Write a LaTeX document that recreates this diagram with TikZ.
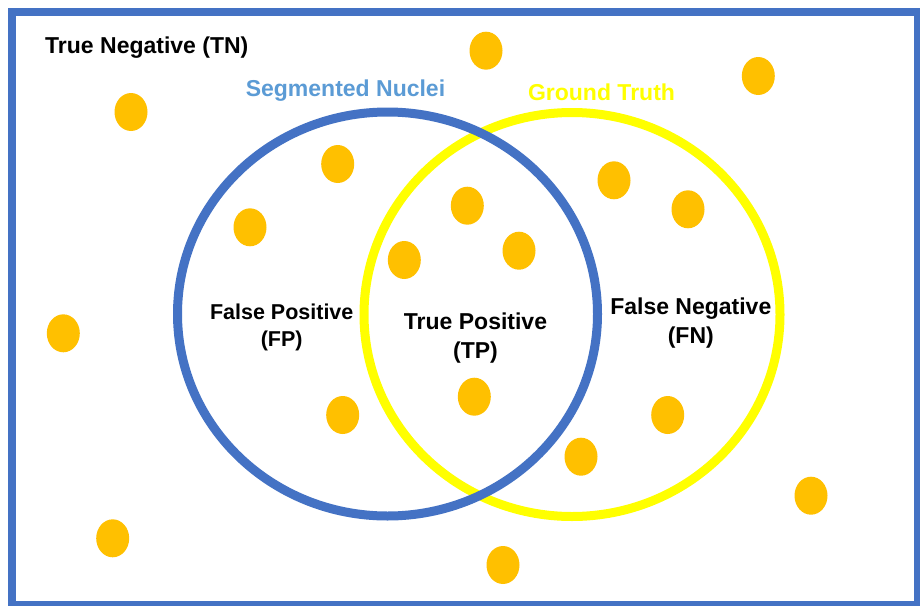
\documentclass[tikz,border=0pt]{standalone}
\usepackage{fontspec}
\setmainfont{Liberation Sans}
\usetikzlibrary{shapes.geometric}
\definecolor{bordblue}{HTML}{4472C4}
\definecolor{lblue}{HTML}{5B9BD5}
\definecolor{gtyellow}{HTML}{FFFF00}
\definecolor{dotorange}{HTML}{FFC000}
\begin{document}
\begin{tikzpicture}[x=1pt,y=-1pt,
  nucleus/.style={ellipse, fill=dotorange, draw=none, minimum width=33pt, minimum height=38pt, inner sep=0pt},
  lbl/.style={font=\bfseries\fontsize{23}{28.5}\selectfont, inner sep=0pt, align=center},
  lblsmall/.style={font=\bfseries\fontsize{21.5}{27.4}\selectfont, inner sep=0pt, align=center},
  ring/.style={line width=9pt}]
\useasboundingbox (0,0) rectangle (920,605);
\clip (0,0) rectangle (920,605);
\fill[white] (0,0) rectangle (920,605);
\draw[bordblue, line width=8pt] (11.5,12) rectangle (918,604.5);

% rings
\draw[ring, gtyellow] (572,314.5) ellipse [x radius=208pt, y radius=202pt];
\draw[ring, bordblue] (387.5,314) ellipse [x radius=210pt, y radius=202pt];

% nuclei
\node[nucleus] (n1) at (486,50.7) {};
\node[nucleus] (n2) at (758.3,76) {};
\node[nucleus] (n3) at (131,112) {};
\node[nucleus] (n4) at (337.7,164) {};
\node[nucleus] (n5) at (614,180.3) {};
\node[nucleus] (n6) at (467.3,205.7) {};
\node[nucleus] (n7) at (688,209.3) {};
\node[nucleus] (n8) at (250,227.3) {};
\node[nucleus] (n9) at (519,250.7) {};
\node[nucleus] (n10) at (404.3,260) {};
\node[nucleus] (n11) at (63.3,333.3) {};
\node[nucleus] (n12) at (474.3,396.7) {};
\node[nucleus] (n13) at (342.7,415) {};
\node[nucleus] (n14) at (667.7,415) {};
\node[nucleus] (n15) at (581,456.7) {};
\node[nucleus] (n16) at (811,495.7) {};
\node[nucleus] (n17) at (112.7,538.3) {};
\node[nucleus] (n18) at (503,565) {};

% labels
\node[lbl, anchor=base west] (tn) at (45,53.3) {True Negative (TN)};
\node[lbl, anchor=base, text=lblue] (seg) at (345.5,96.7) {Segmented Nuclei};
\node[lbl, anchor=base, text=gtyellow] (gt) at (601.5,100) {Ground Truth};
\node[lblsmall] (fp) at (281.7,327.4) {False Positive\\(FP)};
\node[lbl] (tp) at (475.5,337.9) {True Positive\\(TP)};
\node[lbl] (fn) at (690.8,323.2) {False Negative\\(FN)};
\end{tikzpicture}
\end{document}
